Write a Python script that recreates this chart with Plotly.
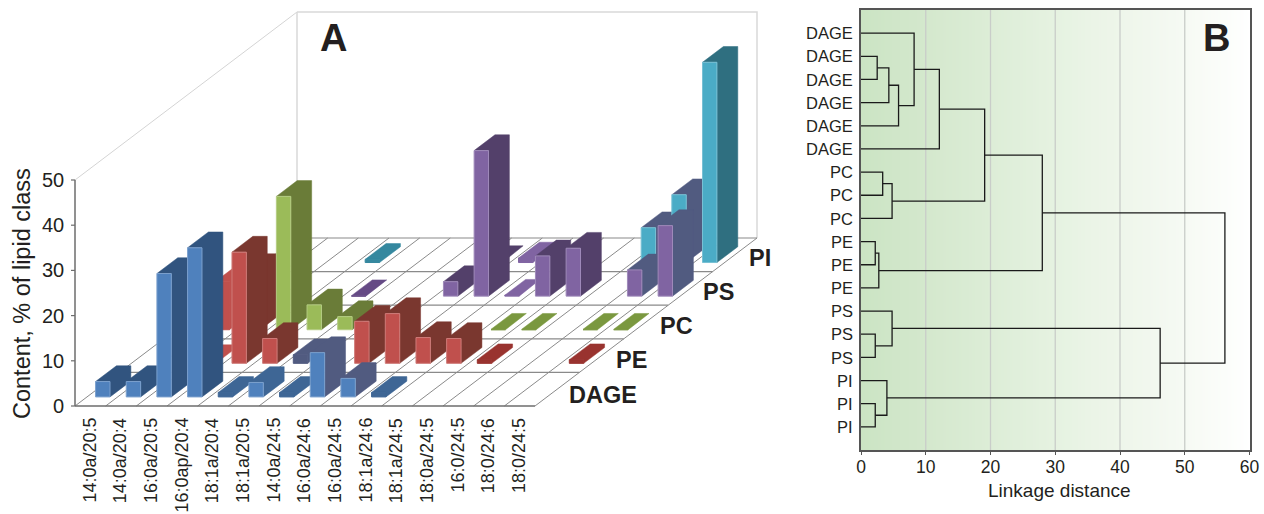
import plotly.graph_objects as go

categories = ["14:0a/20:5", "14:0a/20:4", "16:0a/20:5", "16:0ap/20:4", "18:1a/20:4",
              "18:1a/20:5", "14:0a/24:5", "16:0a/24:6", "16:0a/24:5", "18:1a/24:6",
              "18:1a/24:5", "18:0a/24:5", "16:0/24:5", "18:0/24:6", "18:0/24:5"]
series_names = ["DAGE", "PE", "PC", "PS", "PI"]
n = None
DAGE = [3.4, 3.4, 27.3, 33.0, 1.0, 3.2, 1.0, 9.8, 4.1, 1.0, n, n, n, n, n]
PE = [n, n, 0.6, 24.6, 5.5, 1.9, n, 9.3, 11.0, 5.7, 5.5, 0.8, n, n, 0.8]
PE_BEHIND = [n, 10.6, 13.3, n, n, n, n, n, n, n, n, n, n, n, n]
PC = [n, n, n, 29.5, 5.5, 2.9, n, n, n, n, 0.1, 0.1, n, 0.1, 0.1]
PS = [n, n, n, n, 0.1, n, n, 3.2, 32.2, 0.2, 8.9, 10.6, n, 5.8, 15.6]
PI = [n, n, n, 0.7, n, n, n, 0.2, 1.0, n, n, n, 7.7, 15.0, 44.3]
z_ticks = [0, 10, 20, 30, 40, 50]

leaf_labels = ["DAGE"] * 6 + ["PC"] * 3 + ["PE"] * 3 + ["PS"] * 3 + ["PI"] * 3
# linkage table: two child nodes and merge distance; leaves are 0..17, merges numbered from 18
link_a = [1, 18, 19, 0, 21, 6, 23, 22, 9, 26, 25, 13, 29, 16, 31, 30, 28]
link_b = [2, 3, 4, 20, 5, 7, 8, 24, 10, 11, 27, 14, 12, 17, 15, 32, 33]
link_d = [2.5, 4.3, 5.8, 8.2, 12.1, 3.35, 4.8, 19.1, 2.2, 2.75, 28.0, 2.2, 4.8, 2.2, 4.0, 46.2, 56.2]
x_ticks = [0, 10, 20, 30, 40, 50, 60]
grad_x = [0, 4, 8, 12, 16, 20, 24, 28, 32, 36, 40, 44, 48, 52, 56, 60]
grad_colors = ["#cbe4c3", "#cfe6c8", "#d2e7cb", "#d6e9cf", "#d9ebd3", "#ddedd7", "#e0efdb", "#e4f1df",
               "#e7f3e3", "#ebf4e7", "#eef6ea", "#f1f7ee", "#f4f9f2", "#f8fbf6", "#fbfdfa", "#ffffff"]

FONT = "Liberation Sans, Arial, sans-serif"
TXT = "#231f20"
# oblique projection of the 3D chart onto page pixels
X0, Y0 = 75.0, 406.0
CAT_W = 460.0 / 15
ROW_DX, ROW_DY = 44.4, -33.6
Z_SCALE = 226.0 / 50
BAR_A, BAR_B = 0.28, 0.75


def proj(cat, row, val=0.0):
    return (X0 + cat * CAT_W + row * ROW_DX, Y0 + row * ROW_DY - val * Z_SCALE)


fig = go.Figure()


def line(pts, color, width, xaxis="x", yaxis="y"):
    fig.add_trace(go.Scatter(x=[p[0] for p in pts], y=[p[1] for p in pts], mode="lines",
                             line=dict(color=color, width=width), hoverinfo="skip",
                             showlegend=False, xaxis=xaxis, yaxis=yaxis))


def poly(pts, fill, edge=None):
    fig.add_trace(go.Scatter(x=[p[0] for p in pts] + [pts[0][0]], y=[p[1] for p in pts] + [pts[0][1]],
                             mode="lines", fill="toself", fillcolor=fill,
                             line=dict(color=edge or fill, width=1 if edge else 0.5),
                             hoverinfo="skip", showlegend=False, xaxis="x", yaxis="y"))


def tint(c):
    v = [int(c[i:i + 2], 16) for i in (1, 3, 5)]
    return "#%02x%02x%02x" % tuple(int(x + (255 - x) * 0.25) for x in v)


def bar(cat, row, val, front, side):
    a, b = cat + BAR_A, cat + BAR_B
    r0, r1 = row + BAR_A - 0.01, row + BAR_B - 0.01
    poly([proj(b, r0, 0), proj(b, r1, 0), proj(b, r1, val), proj(a, r1, val), proj(a, r0, val), proj(b, r0, val)], side)
    poly([proj(a, r0, 0), proj(b, r0, 0), proj(b, r0, val), proj(a, r0, val)], front,
         edge=tint(front) if front != side else front)


# walls
WALL = "#d9d9d9"
line([proj(0, 0, 50), proj(0, 5, 50)], "#d4d4d4", 1)
line([proj(0, 5, 50), proj(0, 5, 0)], WALL, 1.5)
line([proj(0, 5, 50), proj(15, 5, 50), proj(15, 5, 0)], WALL, 1.5)
# floor
FLOOR = "#8a8a8a"
for r in range(1, 6):
    line([proj(0, r), proj(15, r)], FLOOR, 1.2)
for c in range(16):
    line([proj(c, 0), proj(c, 5)], FLOOR, 1)
line([proj(0, 0), proj(15, 0)], "#6d6d6d", 1.5)
line([proj(0, 0), proj(0, 0, 50)], "#6d6d6d", 1.5)
for t in z_ticks:
    p = proj(0, 0, t)
    line([(p[0] - 4, p[1]), p], "#6d6d6d", 1.2)

front_col = {"DAGE": "#4f81bd", "PE": "#c0504d", "PC": "#9bbb59", "PS": "#8064a2", "PI": "#4bacc6"}
side_col = {"DAGE": "#31547f", "PE": "#7a372f", "PC": "#6a7c38", "PS": "#53406a", "PI": "#2f6f80"}
SLATE = "#515b80"
side_over = {("DAGE", 4): "#3e6695", ("DAGE", 5): "#3e6695", ("DAGE", 6): "#3e6695", ("DAGE", 9): "#3e6695",
             ("DAGE", 7): SLATE, ("DAGE", 8): SLATE, ("PE", 11): "#99332f", ("PE", 14): "#99332f",
             ("PE", 5): SLATE, ("PE", 2): "#c0504d", ("PS", 13): SLATE, ("PS", 14): SLATE,
             ("PI", 12): SLATE, ("PI", 13): SLATE, ("PI", 3): "#35889f", ("PC", 10): "#7a983f",
             ("PC", 11): "#7a983f", ("PC", 13): "#7a983f", ("PC", 14): "#7a983f", ("PS", 9): "#8064a2",
             ("PS", 4): "#654a85", ("PI", 7): "#53406a", ("PI", 8): "#8064a2"}
front_over = {("PE", 5): SLATE}

rows = [("PI", PI, 4), ("PS", PS, 3), ("PE", PE_BEHIND, 2), ("PC", PC, 2), ("PE", PE, 1), ("DAGE", DAGE, 0)]
for name, values, r in rows:
    for c, v in enumerate(values):
        if v is None:
            continue
        key = (name, c)
        behind = values is PE_BEHIND
        side = side_col[name] if behind else side_over.get(key, side_col[name])
        front = front_col[name] if behind else front_over.get(key, side if v <= 1 else front_col[name])
        if behind and c == 1:
            side = front_col[name]
        bar(c, r, v, front, side)

# dendrogram: gradient, grid, links
fig.add_trace(go.Heatmap(x=grad_x, y=[-1, 18], z=[grad_x, grad_x], showscale=False, hoverinfo="skip",
                         zsmooth="best", zmin=0, zmax=60,
                         colorscale=[[v / 60, col] for v, col in zip(grad_x, grad_colors)],
                         xaxis="x2", yaxis="y2"))
for t in x_ticks[1:-1]:
    line([(t, -1), (t, 18)], "#c9cdc9", 1.3, "x2", "y2")

LINK = "#1a1a1a"
node_y = {i: float(i) for i in range(18)}
node_x = {i: 0.0 for i in range(18)}
for k, (a, b, d) in enumerate(zip(link_a, link_b, link_d)):
    line([(node_x[a], node_y[a]), (d, node_y[a]), (d, node_y[b]), (node_x[b], node_y[b])], LINK, 1.3, "x2", "y2")
    node_x[18 + k] = d
    node_y[18 + k] = (node_y[a] + node_y[b]) / 2

ann = []


def text(x, y, s, size, xanchor="center", yanchor="middle", bold=False, angle=0, xref="x", yref="y"):
    ann.append(dict(x=x, y=y, xref=xref, yref=yref, text="<b>%s</b>" % s if bold else s, showarrow=False,
                    xanchor=xanchor, yanchor=yanchor, textangle=angle,
                    font=dict(family=FONT, size=size, color=TXT)))


for t in z_ticks:
    p = proj(0, 0, t)
    text(p[0] - 9, p[1], str(t), 20, xanchor="right")
text(22, 294, "Content, % of lipid class", 23.5, angle=-90)
for i, c in enumerate(categories):
    p = proj(i + 0.46, 0)
    ann.append(dict(x=p[0], y=416, xref="x", yref="y", text=c, showarrow=False, xanchor="center", yanchor="top",
                    textangle=-90, font=dict(family=FONT, size=18, color=TXT)))
for name, (x, y) in zip(series_names, [(603, 395), (631, 360), (676, 326), (718, 292), (760, 258)]):
    text(x, y, name, 23.5, bold=True)
text(333, 38, "A", 38, bold=True)
text(1216, 38, "B", 38, bold=True)
for i, s in enumerate(leaf_labels):
    text(854.5, 33.3 + i * 23.16, s, 16.5, xanchor="right")
text(1059, 490, "Linkage distance", 19)

fig.update_layout(
    width=1264, height=514, margin=dict(l=0, r=0, t=0, b=0, autoexpand=False), paper_bgcolor="white",
    plot_bgcolor="rgba(0,0,0,0)", showlegend=False, annotations=ann,
    xaxis=dict(domain=[0, 1], range=[0, 1264], visible=False, fixedrange=True),
    yaxis=dict(domain=[0, 1], range=[514, 0], visible=False, fixedrange=True),
    xaxis2=dict(domain=[861 / 1264, 1249.5 / 1264], range=[0, 60], anchor="y2", tickvals=x_ticks, ticks="outside",
                ticklen=3, tickcolor="#555", showgrid=False, zeroline=False, mirror=True, showline=True,
                linecolor="#555", linewidth=1.5, tickfont=dict(family=FONT, size=17.5, color=TXT),
                ticklabelstandoff=-3),
    yaxis2=dict(domain=[1 - 450 / 514, 1 - 10 / 514], range=[18, -1], anchor="x2", showticklabels=False,
                ticks="", showgrid=False, zeroline=False, mirror=True, showline=True, linecolor="#555", linewidth=1.5),
)
fig.write_html("out.html", post_script="document.body.style.margin='0';", config={"displayModeBar": False})
